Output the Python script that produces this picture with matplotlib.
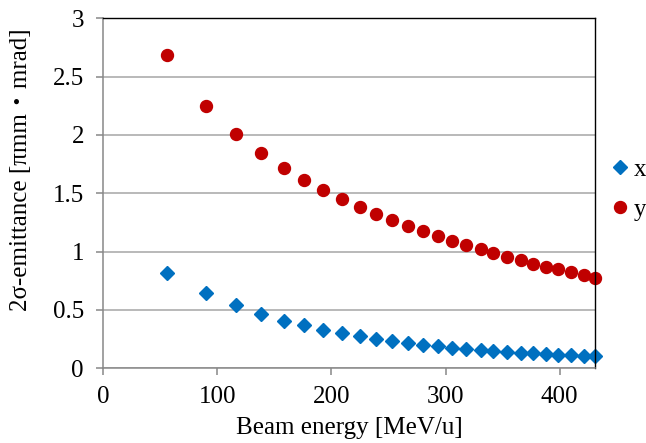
import matplotlib.pyplot as plt
import numpy as np

plt.rcParams['font.family'] = ['Liberation Serif', 'Noto Sans CJK JP']

energy = [56, 90, 116, 138, 158, 176, 193, 209, 225, 239, 253, 267, 280,
          293, 306, 318, 331, 342, 354, 366, 377, 388, 399, 410, 421, 431]
emit_x = [0.819, 0.643, 0.540, 0.465, 0.408, 0.368, 0.328, 0.302, 0.274,
          0.254, 0.234, 0.217, 0.202, 0.189, 0.177, 0.168, 0.159, 0.151,
          0.142, 0.134, 0.129, 0.123, 0.117, 0.111, 0.108, 0.103]
emit_y = [2.69, 2.248, 2.008, 1.845, 1.719, 1.616, 1.525, 1.451, 1.385,
          1.325, 1.271, 1.219, 1.177, 1.131, 1.094, 1.054, 1.020, 0.985,
          0.956, 0.925, 0.896, 0.871, 0.848, 0.823, 0.797, 0.771]

fig = plt.figure(figsize=(6.46, 4.43), dpi=100)
ax = fig.add_axes([0.16, 0.1686, 0.761, 0.79])

ax.plot(energy, emit_x, 'D', color='#0070C0', markersize=7.5, label='x', clip_on=False)
ax.plot(energy, emit_y, 'o', color='#C00000', markersize=8.6, label='y', clip_on=False)

ax.set_xlim(0, 431)
ax.set_ylim(0, 3)
ax.set_xticks([0, 100, 200, 300, 400])
ax.set_yticks(np.arange(0, 3.01, 0.5))
ax.set_yticklabels(['0', '0.5', '1', '1.5', '2', '2.5', '3'])
ax.yaxis.grid(True, color='#a6a6a6', linewidth=1.1)
ax.set_axisbelow(True)

for s in ['left', 'bottom']:
    ax.spines[s].set_color('#888888')
    ax.spines[s].set_linewidth(1.1)
for s in ['top', 'right']:
    ax.spines[s].set_color('black')
    ax.spines[s].set_linewidth(1.0)
ax.tick_params(axis='both', colors='#888888', labelcolor='black', labelsize=18,
               length=5, width=1.1, direction='out')
ax.tick_params(axis='x', pad=8)
ax.tick_params(axis='y', pad=9)

ax.set_xlabel('Beam energy [MeV/u]', fontsize=18, labelpad=6)
ax.set_ylabel('2σ-emittance [πmm・mrad]', fontsize=18)
ax.yaxis.set_label_coords(-0.145, 0.567)

fig.legend(loc='center left', bbox_to_anchor=(0.944, 0.572), frameon=False,
           fontsize=18, handletextpad=0.15, labelspacing=0.7, handlelength=0.8,
           borderpad=0, borderaxespad=0)

plt.savefig('out.png')
